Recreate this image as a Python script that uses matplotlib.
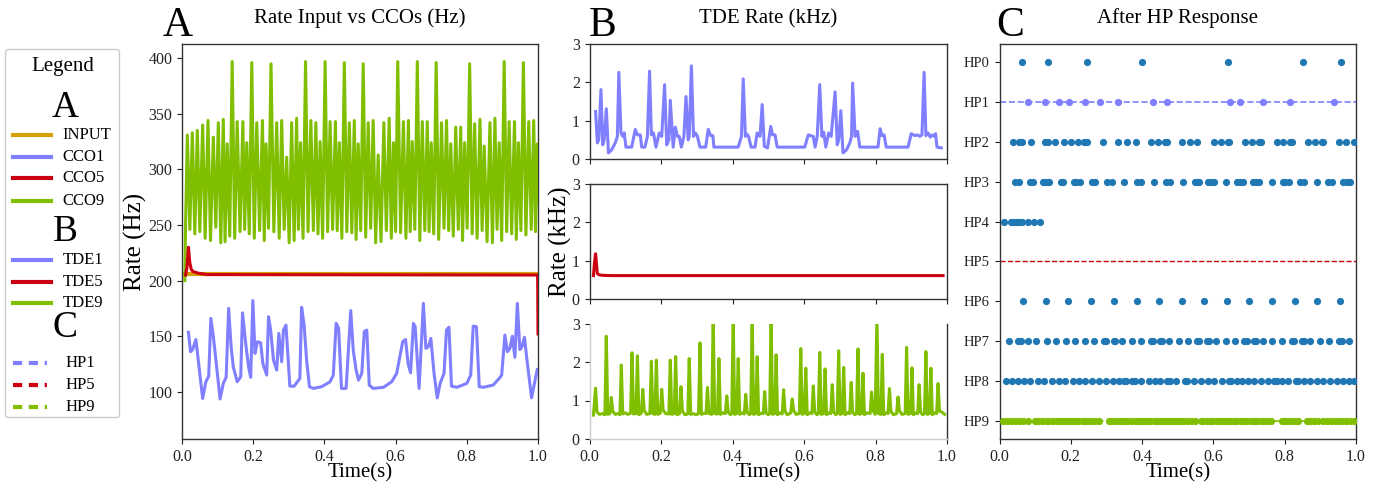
import numpy as np
import matplotlib
matplotlib.use("Agg")
import matplotlib.pyplot as plt
from matplotlib.lines import Line2D
from matplotlib.patches import FancyBboxPatch

plt.rcParams['font.family'] = ['Liberation Serif', 'DejaVu Serif']

# ---------------- colours ----------------
C_INPUT = '#d4a00a'
C_BLUE = '#7f7fff'
C_RED = '#cc0011'
C_GREEN = '#7fbf00'
C_DOT = '#1f77b4'

# ---------------- Panel A data ----------------
input_t = [0.0, 1.0]
input_v = [205.5, 205.5]

cco5_t = [0.010, 0.014, 0.018, 0.022, 0.026, 0.032, 0.046, 0.070, 0.999, 1.0]
cco5_v = [205, 212, 230, 216, 210, 208, 206.6, 205.4, 205, 152]

cco1_t = [0.018, 0.024, 0.030, 0.039, 0.058, 0.067, 0.075, 0.081, 0.088, 0.107,
          0.116, 0.124, 0.131, 0.138, 0.144, 0.155, 0.165, 0.170, 0.180, 0.187,
          0.193, 0.199, 0.205, 0.212, 0.221, 0.227, 0.238, 0.243, 0.249, 0.257,
          0.266, 0.272, 0.280, 0.285, 0.292, 0.303, 0.315, 0.331, 0.336, 0.343,
          0.350, 0.358, 0.369, 0.392, 0.416, 0.425, 0.433, 0.440, 0.448, 0.461,
          0.474, 0.481, 0.489, 0.496, 0.505, 0.512, 0.519, 0.526, 0.537, 0.566,
          0.589, 0.603, 0.620, 0.628, 0.635, 0.642, 0.650, 0.655, 0.666, 0.678,
          0.685, 0.692, 0.699, 0.708, 0.717, 0.725, 0.736, 0.743, 0.750, 0.757,
          0.772, 0.800, 0.811, 0.818, 0.827, 0.835, 0.846, 0.874, 0.891, 0.898,
          0.907, 0.914, 0.921, 0.928, 0.935, 0.942, 0.949, 0.955, 0.962, 0.969,
          0.982, 0.990, 0.998]
cco1_v = [153.5, 136, 138, 147, 94, 109, 114, 166, 150, 93.5,
          107.5, 113, 175, 140.5, 122.5, 109, 113.5, 171, 140.5, 122.5,
          113, 182, 134.5, 145, 144, 125.5, 115, 167.5, 155.5, 128.5,
          119.5, 152.5, 127, 155.5, 160, 105, 105, 112, 176, 160,
          128.5, 104.5, 103, 104.5, 109, 115, 161.5, 157, 103, 103,
          173, 137.5, 119.5, 110.5, 116.5, 154, 155.5, 106, 103, 104,
          109, 116.5, 145, 147, 125.5, 117, 161.5, 158.5, 103, 179.5,
          139, 140.5, 148, 116.5, 94.5, 107.5, 116.5, 155.5, 158, 105,
          104, 107.5, 115, 159, 158.5, 104.5, 104, 106, 112, 115,
          151, 136, 139, 150, 131, 179.5, 138, 140.5, 149, 128.5,
          94.5, 107.5, 120]

cco9_start_t = [0.008, 0.010]
cco9_start_v = [200, 250]
cco9_peak_t = [0.015, 0.029, 0.043, 0.058, 0.073, 0.088, 0.102, 0.116, 0.127, 0.141,
               0.155, 0.171, 0.182, 0.196, 0.210, 0.226, 0.236, 0.250, 0.266, 0.280,
               0.294, 0.308, 0.322, 0.333, 0.347, 0.362, 0.376, 0.388, 0.402, 0.416,
               0.431, 0.442, 0.456, 0.470, 0.484, 0.495, 0.509, 0.523, 0.537, 0.551,
               0.567, 0.582, 0.594, 0.606, 0.622, 0.636, 0.647, 0.661, 0.675, 0.689,
               0.700, 0.714, 0.729, 0.743, 0.755, 0.769, 0.783, 0.794, 0.808, 0.822,
               0.837, 0.849, 0.865, 0.879, 0.891, 0.905, 0.919, 0.934, 0.945, 0.959,
               0.974, 0.988, 0.998]
cco9_peak_v = [331, 333, 335, 340, 344, 329, 342, 345, 323, 397,
               343, 343, 324, 396, 342, 344, 323, 395, 342, 344,
               311, 342, 346, 324, 397, 344, 342, 325, 397, 343,
               343, 324, 396, 342, 344, 323, 395, 342, 344, 313,
               342, 346, 324, 397, 343, 344, 325, 397, 343, 343,
               324, 396, 342, 344, 323, 338, 338, 324, 395, 341,
               345, 321, 342, 346, 324, 397, 343, 343, 324, 396,
               343, 344, 323]
cco9_trough_t = [0.022, 0.036, 0.050, 0.065, 0.080, 0.095, 0.109, 0.121, 0.134, 0.148,
                 0.163, 0.176, 0.189, 0.203, 0.218, 0.231, 0.243, 0.258, 0.273, 0.287,
                 0.301, 0.315, 0.327, 0.340, 0.354, 0.369, 0.382, 0.395, 0.409, 0.423,
                 0.436, 0.449, 0.463, 0.477, 0.489, 0.502, 0.516, 0.530, 0.544, 0.559,
                 0.574, 0.588, 0.600, 0.614, 0.629, 0.641, 0.654, 0.668, 0.682, 0.694,
                 0.707, 0.721, 0.736, 0.749, 0.762, 0.776, 0.788, 0.801, 0.815, 0.829,
                 0.843, 0.857, 0.872, 0.885, 0.898, 0.912, 0.926, 0.939, 0.952, 0.966,
                 0.981, 0.993, 1.006]
cco9_trough_v = [246, 242, 244, 238, 236, 248, 234, 235, 240, 238,
                 244, 246, 242, 238, 245, 236, 247, 244, 238, 246,
                 234, 236, 246, 238, 244, 245, 242, 238, 244, 246,
                 245, 238, 244, 243, 237, 245, 239, 247, 234, 235,
                 245, 238, 244, 243, 238, 244, 246, 236, 245, 244,
                 242, 237, 247, 245, 240, 246, 236, 247, 242, 238,
                 245, 235, 234, 246, 236, 244, 242, 237, 245, 241,
                 246, 244, 245]

# ---------------- Panel B data ----------------
tde1_t = [0.017, 0.022, 0.026, 0.032, 0.037, 0.041, 0.047, 0.053, 0.062, 0.072,
          0.078, 0.082, 0.088, 0.093, 0.097, 0.102, 0.118, 0.128, 0.134, 0.142,
          0.146, 0.155, 0.162, 0.168, 0.173, 0.179, 0.186, 0.195, 0.202, 0.210,
          0.216, 0.222, 0.226, 0.234, 0.240, 0.246, 0.251, 0.257, 0.264, 0.270,
          0.276, 0.279, 0.285, 0.291, 0.296, 0.302, 0.309, 0.325, 0.332, 0.339,
          0.345, 0.348, 0.416, 0.425, 0.430, 0.436, 0.439, 0.445, 0.452, 0.463,
          0.469, 0.477, 0.483, 0.489, 0.498, 0.507, 0.512, 0.519, 0.525, 0.602,
          0.612, 0.618, 0.626, 0.631, 0.637, 0.644, 0.650, 0.655, 0.661, 0.669,
          0.676, 0.687, 0.693, 0.697, 0.703, 0.709, 0.719, 0.728, 0.733, 0.736,
          0.743, 0.750, 0.756, 0.807, 0.813, 0.818, 0.824, 0.830, 0.891, 0.900,
          0.910, 0.917, 0.924, 0.930, 0.936, 0.941, 0.947, 0.953, 0.959, 0.965,
          0.968, 0.972, 0.984]
tde1_v = [1.24, 0.42, 0.50, 1.81, 0.37, 0.50, 1.31, 0.16, 0.24, 0.42,
          0.59, 2.26, 0.68, 0.59, 0.68, 0.31, 0.31, 0.77, 0.63, 0.63,
          0.31, 0.31, 0.59, 2.29, 0.63, 0.68, 0.31, 0.68, 0.59, 1.94,
          0.37, 0.50, 1.53, 0.31, 0.83, 0.59, 0.59, 0.31, 0.59, 1.63,
          0.50, 0.59, 2.43, 0.59, 0.68, 0.59, 0.31, 0.31, 0.77, 0.61,
          0.61, 0.31, 0.31, 0.59, 2.09, 0.59, 0.66, 0.59, 0.31, 0.31,
          0.68, 0.59, 1.42, 0.33, 0.29, 0.85, 0.63, 0.63, 0.31, 0.31,
          0.63, 0.61, 0.59, 0.31, 0.59, 1.94, 0.59, 0.70, 0.31, 0.68,
          0.59, 1.75, 0.37, 0.50, 1.26, 0.16, 0.24, 0.42, 0.59, 1.98,
          0.59, 0.72, 0.31, 0.31, 0.79, 0.61, 0.63, 0.31, 0.31, 0.66,
          0.61, 0.63, 0.59, 0.63, 2.26, 0.61, 0.68, 0.57, 0.63, 0.59,
          0.66, 0.31, 0.29]

tde5_t = [0.011, 0.014, 0.017, 0.022, 0.028, 0.034, 0.058, 0.989]
tde5_v = [0.61, 0.95, 1.18, 0.66, 0.63, 0.62, 0.61, 0.61]

tde9_peak_t = [0.017, 0.047, 0.061, 0.089, 0.119, 0.134, 0.149, 0.173, 0.187, 0.202,
               0.226, 0.241, 0.256, 0.279, 0.309, 0.330, 0.346, 0.362, 0.384, 0.402,
               0.416, 0.437, 0.455, 0.469, 0.490, 0.508, 0.522, 0.543, 0.567, 0.591,
               0.605, 0.626, 0.644, 0.659, 0.679, 0.697, 0.711, 0.732, 0.751, 0.765,
               0.789, 0.804, 0.819, 0.839, 0.863, 0.887, 0.902, 0.922, 0.941, 0.955,
               0.975]
tde9_peak_v = [1.32, 2.67, 1.08, 1.92, 2.24, 2.16, 1.29, 2.02, 2.05, 1.29,
               2.05, 2.14, 1.36, 2.09, 2.50, 1.34, 3.20, 2.09, 1.12, 3.20,
               2.09, 1.16, 3.20, 2.14, 1.23, 3.20, 2.19, 1.28, 1.04, 2.35,
               1.84, 1.38, 2.25, 1.82, 1.41, 2.29, 1.86, 1.47, 2.34, 1.71,
               1.22, 3.20, 2.20, 1.31, 1.09, 2.38, 1.85, 1.41, 2.27, 1.84,
               1.44]
tde9_base = [(0.011, 0.62), (0.021, 0.70), (0.028, 0.64), (0.036, 0.66), (0.043, 0.63),
             (0.051, 0.64), (0.057, 0.66),
             (0.065, 0.72), (0.072, 0.64), (0.080, 0.66), (0.085, 0.63),
             (0.093, 0.65), (0.100, 0.68), (0.107, 0.64), (0.115, 0.67),
             (0.123, 0.65), (0.130, 0.66),
             (0.138, 0.63), (0.145, 0.67),
             (0.153, 0.74), (0.160, 0.64), (0.169, 0.66),
             (0.177, 0.66), (0.183, 0.64),
             (0.191, 0.64), (0.198, 0.67),
             (0.206, 0.75), (0.213, 0.66), (0.222, 0.65),
             (0.230, 0.64), (0.237, 0.66),
             (0.245, 0.63), (0.252, 0.66),
             (0.260, 0.72), (0.267, 0.63), (0.275, 0.65),
             (0.283, 0.64), (0.291, 0.66), (0.298, 0.63), (0.305, 0.66),
             (0.313, 0.64), (0.320, 0.67), (0.326, 0.66),
             (0.334, 0.66), (0.342, 0.64),
             (0.350, 0.66), (0.358, 0.65),
             (0.366, 0.64), (0.373, 0.68), (0.380, 0.66),
             (0.388, 0.70), (0.394, 0.63), (0.398, 0.66),
             (0.406, 0.64), (0.412, 0.66),
             (0.420, 0.64), (0.427, 0.68), (0.433, 0.65),
             (0.441, 0.70), (0.447, 0.63), (0.451, 0.66),
             (0.459, 0.64), (0.465, 0.66),
             (0.473, 0.63), (0.480, 0.67), (0.486, 0.66),
             (0.494, 0.68), (0.500, 0.63), (0.504, 0.66),
             (0.512, 0.64), (0.518, 0.66),
             (0.526, 0.63), (0.533, 0.68), (0.539, 0.65),
             (0.547, 0.72), (0.553, 0.63), (0.560, 0.66), (0.563, 0.68),
             (0.571, 0.74), (0.578, 0.64), (0.587, 0.66),
             (0.595, 0.64), (0.601, 0.66),
             (0.609, 0.63), (0.616, 0.68), (0.622, 0.66),
             (0.630, 0.70), (0.636, 0.63), (0.640, 0.66),
             (0.648, 0.64), (0.655, 0.66),
             (0.663, 0.63), (0.670, 0.68), (0.675, 0.66),
             (0.683, 0.70), (0.689, 0.63), (0.693, 0.66),
             (0.701, 0.64), (0.707, 0.66),
             (0.715, 0.63), (0.722, 0.68), (0.728, 0.66),
             (0.736, 0.70), (0.742, 0.63), (0.747, 0.66),
             (0.755, 0.64), (0.761, 0.66),
             (0.769, 0.63), (0.776, 0.68), (0.785, 0.66),
             (0.793, 0.74), (0.799, 0.64),
             (0.808, 0.66), (0.815, 0.64),
             (0.823, 0.63), (0.830, 0.68), (0.835, 0.66),
             (0.843, 0.72), (0.850, 0.63), (0.859, 0.66),
             (0.867, 0.73), (0.874, 0.64), (0.883, 0.66),
             (0.891, 0.64), (0.898, 0.66),
             (0.906, 0.63), (0.913, 0.68), (0.918, 0.66),
             (0.926, 0.70), (0.932, 0.63), (0.937, 0.66),
             (0.945, 0.64), (0.951, 0.66),
             (0.959, 0.63), (0.966, 0.68), (0.971, 0.66),
             (0.979, 0.72), (0.986, 0.70), (0.993, 0.64)]

# ---------------- Panel C data (spike times, s) ----------------
hp_labels = ['HP0', 'HP1', 'HP2', 'HP3', 'HP4', 'HP5', 'HP6', 'HP7', 'HP8', 'HP9']
hp0 = [0.064, 0.137, 0.245, 0.401, 0.640, 0.850, 0.958]
hp1 = [0.079, 0.127, 0.166, 0.195, 0.240, 0.283, 0.333, 0.430, 0.469, 0.646,
       0.675, 0.738, 0.816, 0.937]
hp2 = [0.037, 0.056, 0.064, 0.088, 0.128, 0.135, 0.157, 0.180, 0.200, 0.221,
       0.237, 0.245, 0.289, 0.333, 0.357, 0.382, 0.425, 0.446, 0.465, 0.471,
       0.513, 0.533, 0.554, 0.601, 0.621, 0.640, 0.645, 0.689, 0.708, 0.727,
       0.734, 0.778, 0.796, 0.815, 0.820, 0.864, 0.884, 0.904, 0.908, 0.952,
       0.972, 0.993]
hp3 = [0.044, 0.056, 0.086, 0.093, 0.121, 0.128, 0.135, 0.139, 0.173, 0.178,
       0.209, 0.215, 0.225, 0.260, 0.269, 0.302, 0.316, 0.349, 0.385, 0.396,
       0.433, 0.467, 0.479, 0.516, 0.547, 0.555, 0.560, 0.586, 0.593, 0.602,
       0.636, 0.667, 0.675, 0.684, 0.712, 0.720, 0.729, 0.764, 0.794, 0.802,
       0.811, 0.844, 0.855, 0.891, 0.921, 0.933, 0.964, 0.974, 0.983]
hp4 = [0.014, 0.032, 0.039, 0.045, 0.050, 0.056, 0.062, 0.079, 0.097, 0.113]
hp5 = []
hp6 = [0.067, 0.131, 0.193, 0.258, 0.321, 0.385, 0.448, 0.511, 0.574, 0.637,
       0.701, 0.764, 0.829, 0.892, 0.955]
hp7 = [0.028, 0.053, 0.061, 0.081, 0.103, 0.133, 0.159, 0.186, 0.211, 0.239,
       0.264, 0.293, 0.299, 0.320, 0.323, 0.343, 0.371, 0.397, 0.425, 0.430,
       0.450, 0.456, 0.475, 0.503, 0.528, 0.555, 0.561, 0.581, 0.587, 0.607,
       0.635, 0.660, 0.687, 0.693, 0.714, 0.720, 0.738, 0.764, 0.792, 0.820,
       0.826, 0.848, 0.853, 0.871, 0.899, 0.924, 0.953, 0.960, 0.981]
hp8 = [0.019, 0.035, 0.053, 0.069, 0.086, 0.107, 0.126, 0.147, 0.167, 0.184,
       0.205, 0.224, 0.240, 0.259, 0.279, 0.299, 0.317, 0.334, 0.350, 0.355,
       0.373, 0.380, 0.396, 0.420, 0.436, 0.450, 0.471, 0.477, 0.494, 0.521,
       0.527, 0.546, 0.565, 0.584, 0.603, 0.623, 0.644, 0.650, 0.667, 0.681,
       0.696, 0.714, 0.733, 0.752, 0.771, 0.778, 0.792, 0.810, 0.831, 0.837,
       0.854, 0.871, 0.890, 0.908, 0.927, 0.946, 0.963, 0.980, 0.994]
hp9 = [0.009, 0.021, 0.032, 0.044, 0.055, 0.067, 0.079, 0.100, 0.109, 0.119,
       0.130, 0.140, 0.151, 0.161, 0.170, 0.179, 0.187, 0.195, 0.203, 0.212,
       0.221, 0.231, 0.239, 0.247, 0.258, 0.269, 0.280, 0.306, 0.315, 0.324,
       0.334, 0.343, 0.350, 0.359, 0.369, 0.379, 0.385, 0.393, 0.399, 0.407,
       0.413, 0.422, 0.432, 0.441, 0.449, 0.456, 0.464, 0.474, 0.481, 0.490,
       0.497, 0.507, 0.516, 0.527, 0.538, 0.549, 0.564, 0.572, 0.581, 0.591,
       0.600, 0.609, 0.619, 0.626, 0.634, 0.642, 0.650, 0.658, 0.667, 0.677,
       0.686, 0.695, 0.705, 0.714, 0.723, 0.733, 0.742, 0.751, 0.761, 0.792,
       0.801, 0.810, 0.820, 0.829, 0.838, 0.862, 0.871, 0.882, 0.894, 0.907,
       0.918, 0.929, 0.941, 0.950, 0.960, 0.972, 0.983, 0.994]
hp_spikes = [hp0, hp1, hp2, hp3, hp4, hp5, hp6, hp7, hp8, hp9]

xticks = [0.0, 0.2, 0.4, 0.6, 0.8, 1.0]
xticklabels = ['0.0', '0.2', '0.4', '0.6', '0.8', '1.0']

# ---------------- figure ----------------
W, H = 1390, 487
fig = plt.figure(figsize=(W / 100, H / 100), dpi=100)


def rect(x0, y0, x1, y1):
    return [x0 / W, 1 - y1 / H, (x1 - x0) / W, (y1 - y0) / H]


SP = '#333333'
TICK_FS = 11.5
LAB_FS = 15


def style(ax):
    for s in ax.spines.values():
        s.set_color(SP)
        s.set_linewidth(1.0)
    ax.tick_params(labelsize=TICK_FS, colors='#222222', length=3.5, width=0.8)


# Panel A
axA = fig.add_axes(rect(182, 44, 538, 439))
style(axA)
axA.plot(input_t, input_v, color=C_INPUT, lw=3.0, zorder=2)
t9 = np.array(cco9_start_t + cco9_peak_t + cco9_trough_t)
v9 = np.array(cco9_start_v + cco9_peak_v + cco9_trough_v)
o = np.argsort(t9)
axA.plot(t9[o], v9[o], color=C_GREEN, lw=2.2, zorder=3)
axA.plot(cco1_t, cco1_v, color=C_BLUE, lw=2.2, zorder=3)
axA.plot(cco5_t, cco5_v, color=C_RED, lw=2.2, zorder=4)
axA.set_xlim(0, 1.0)
axA.set_ylim(57.5, 412.8)
axA.set_yticks([100, 150, 200, 250, 300, 350, 400])
axA.set_xticks(xticks)
axA.set_xticklabels(xticklabels)
axA.set_xlabel('Time(s)', fontsize=LAB_FS, labelpad=-1)
axA.set_ylabel('Rate (Hz)', fontsize=18, labelpad=1)
axA.set_title('Rate Input vs CCOs (Hz)', fontsize=15, pad=15)

# Panel B
bx0, bx1 = 589.5, 947
axB1 = fig.add_axes(rect(bx0, 44, bx1, 159))
axB2 = fig.add_axes(rect(bx0, 184, bx1, 299))
axB3 = fig.add_axes(rect(bx0, 323.5, bx1, 439))
for ax in (axB1, axB2, axB3):
    style(ax)
    ax.set_xlim(0, 1.0)
    ax.set_ylim(0, 3)
    ax.set_yticks([0, 1, 2, 3])
    ax.set_xticks(xticks)
axB1.plot(tde1_t, tde1_v, color=C_BLUE, lw=2.2)
axB2.plot(tde5_t, tde5_v, color=C_RED, lw=2.2)
bt, bv = zip(*tde9_base)
tt = np.array(tde9_peak_t + list(bt))
vv = np.array(tde9_peak_v + list(bv))
o = np.argsort(tt)
axB3.plot(tt[o], vv[o], color=C_GREEN, lw=2.2)
axB1.set_xticklabels([])
axB2.set_xticklabels([])
axB3.set_xticklabels(xticklabels)
axB3.spines['top'].set_visible(False)
axB3.spines['left'].set_color('#cccccc')
axB3.spines['bottom'].set_color('#cccccc')
axB3.set_xlabel('Time(s)', fontsize=LAB_FS, labelpad=-1)
axB2.set_ylabel('Rate (kHz)', fontsize=18, labelpad=0)
axB1.set_title('TDE Rate (kHz)', fontsize=15, pad=15)

# Panel C
axC = fig.add_axes(rect(999.5, 44, 1356, 439))
style(axC)
axC.axhline(1, color=C_BLUE, lw=1.2, ls='--', zorder=1)
axC.axhline(5, color=C_RED, lw=1.0, ls='--', zorder=1)
axC.axhline(9, color=C_GREEN, lw=1.2, ls='--', zorder=1)
for i, sp in enumerate(hp_spikes):
    if not sp:
        continue
    col = C_BLUE if i == 1 else (C_GREEN if i == 9 else C_DOT)
    axC.scatter(sp, [i] * len(sp), s=27, color=col, zorder=3, linewidths=0)
axC.set_xlim(0, 1.0)
axC.set_ylim(9.45, -0.45)
axC.set_yticks(range(len(hp_labels)))
axC.set_yticklabels(hp_labels, fontsize=10.5)
axC.set_xticks(xticks)
axC.set_xticklabels(xticklabels)
axC.set_xlabel('Time(s)', fontsize=LAB_FS, labelpad=-1)
axC.set_title('After HP Response', fontsize=15, pad=15)

# Panel letters
fig.text(163 / W, 1 - 36 / H, 'A', fontsize=30, ha='left', va='baseline')
fig.text(589 / W, 1 - 36 / H, 'B', fontsize=30, ha='left', va='baseline')
fig.text(996 / W, 1 - 36 / H, 'C', fontsize=30, ha='left', va='baseline')

# Legend panel (custom)
lx0, ly0, lx1, ly1 = 5, 49, 120, 418
axL = fig.add_axes(rect(lx0, ly0, lx1, ly1))
axL.set_xlim(0, lx1 - lx0)
axL.set_ylim(ly1 - ly0, 0)
axL.axis('off')
box = FancyBboxPatch((0.5, 0.5), lx1 - lx0 - 1, ly1 - ly0 - 1,
                     boxstyle='round,pad=0,rounding_size=3',
                     fc='white', ec='#cccccc', lw=1.0, transform=axL.transData,
                     clip_on=False)
axL.add_patch(box)
axL.text(57.7, 18, 'Legend', fontsize=15, ha='center', va='center')
entries = [
    ('A', 59, None, None, None),
    ('INPUT', 86, C_INPUT, '-', 57.7),
    ('CCO1', 108, C_BLUE, '-', 57.7),
    ('CCO5', 129, C_RED, '-', 57.7),
    ('CCO9', 152, C_GREEN, '-', 57.7),
    ('B', 183, None, None, None),
    ('TDE1', 211, C_BLUE, '-', 57.7),
    ('TDE5', 233, C_RED, '-', 57.7),
    ('TDE9', 254, C_GREEN, '-', 57.7),
    ('C', 279, None, None, None),
    ('HP1', 314, C_BLUE, '--', 61),
    ('HP5', 336, C_RED, '--', 61),
    ('HP9', 358, C_GREEN, '--', 61),
]
for lab, y, col, ls, tx in entries:
    if col is None:
        axL.text(60, y, lab, fontsize=27, ha='center', va='center')
    else:
        x1 = 46 if ls == '-' else 42
        axL.add_line(Line2D([8, x1], [y, y], color=col, lw=3.0, ls=ls,
                            dashes=(2.2, 1.6) if ls == '--' else (None, None)))
        axL.text(tx, y, lab, fontsize=12, ha='left', va='center')

fig.savefig('out.png', dpi=100)
